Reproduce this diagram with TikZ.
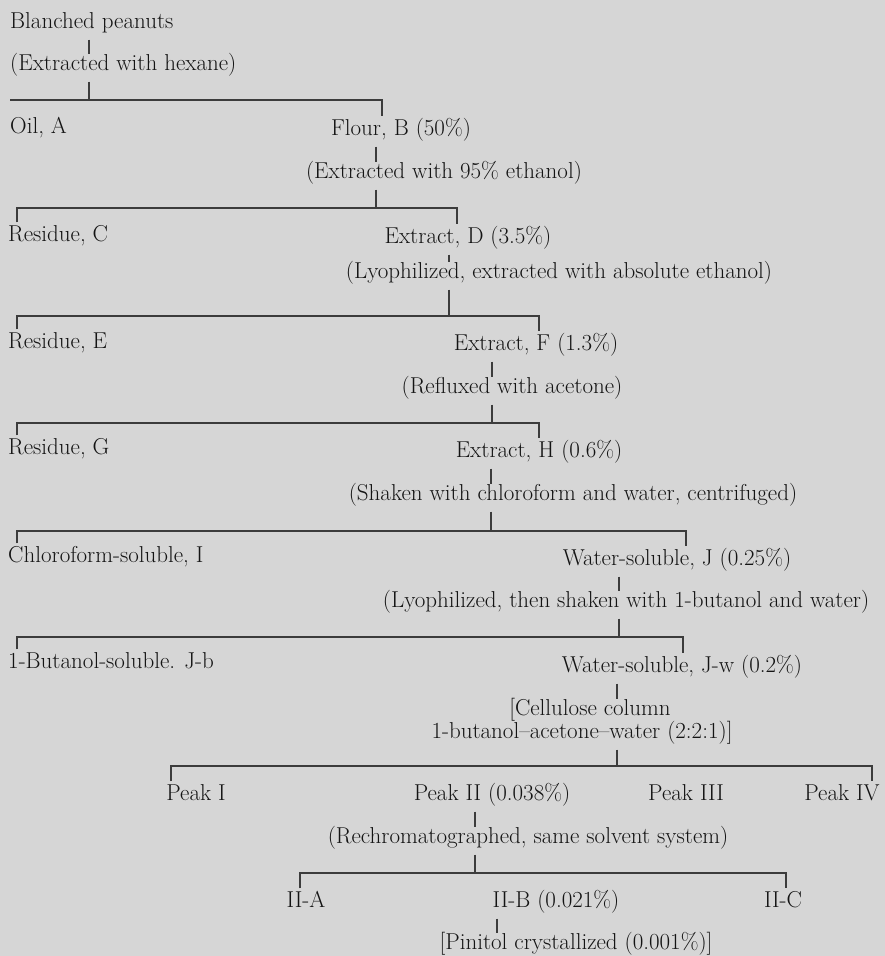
\documentclass[tikz,border=0pt]{standalone}
\usepackage{tikz}
\definecolor{paper}{RGB}{214,214,214}
\definecolor{ink}{RGB}{20,20,20}
\definecolor{rule}{RGB}{60,60,60}
\tikzset{
  lbl/.style={inner xsep=0pt, inner ysep=3pt, text height=16pt, text depth=5pt,
    text=ink, font=\fontsize{23}{26}\selectfont},
  tick/.style={draw=rule, line width=1.2pt, shorten <=3pt},
  stem/.style={tick, shorten >=-3pt},
  bar/.style={draw=rule, line width=1.2pt}
}
\begin{document}
\begin{tikzpicture}[x=1pt, y=-1pt]
  \fill[paper] (0,0) rectangle (885,956);
  \useasboundingbox (0,0) rectangle (885,956);
  % stages
  \node[lbl, anchor=west] (bp) at (10,23) {Blanched peanuts};
  \node[lbl, anchor=west] (hex) at (10,65) {(Extracted with hexane)};
  \node[lbl, anchor=west] (oil) at (10,128) {Oil, A};
  \node[lbl] (flour) at (401,130) {Flour, B (50\%)};
  \node[lbl] (eth) at (444,173) {(Extracted with 95\% ethanol)};
  \node[lbl, anchor=west] (resC) at (8,236) {Residue, C};
  \node[lbl] (extD) at (468,238) {Extract, D (3.5\%)};
  \node[lbl] (lyo) at (559,273) {(Lyophilized, extracted with absolute ethanol)};
  \node[lbl, anchor=west] (resE) at (8,343) {Residue, E};
  \node[lbl] (extF) at (536,345) {Extract, F (1.3\%)};
  \node[lbl] (refl) at (512,388) {(Refluxed with acetone)};
  \node[lbl, anchor=west] (resG) at (8,449) {Residue, G};
  \node[lbl] (extH) at (539,452) {Extract, H (0.6\%)};
  \node[lbl] (shak) at (573,495) {(Shaken with chloroform and water, centrifuged)};
  \node[lbl, anchor=west] (chlI) at (8,557) {Chloroform-soluble, I};
  \node[lbl] (watJ) at (677,560) {Water-soluble, J (0.25\%)};
  \node[lbl] (lyoB) at (626,602) {(Lyophilized, then shaken with 1-butanol and water)};
  \node[lbl, anchor=west] (butJb) at (8,663) {1-Butanol-soluble. J-b};
  \node[lbl] (watJw) at (682,667) {Water-soluble, J-w (0.2\%)};
  \node[lbl] (cellA) at (590,710) {[Cellulose column};
  \node[lbl] (cellB) at (582,733) {1-butanol--acetone--water (2:2:1)]};
  \node[lbl] (pkI) at (196,795) {Peak I};
  \node[lbl] (pkII) at (492,795) {Peak II (0.038\%)};
  \node[lbl] (pkIII) at (686,795) {Peak III};
  \node[lbl] (pkIV) at (842,795) {Peak IV};
  \node[lbl] (rech) at (528,838) {(Rechromatographed, same solvent system)};
  \node[lbl] (iiA) at (306,902) {II-A};
  \node[lbl] (iiB) at (556,902) {II-B (0.021\%)};
  \node[lbl] (iiC) at (783,902) {II-C};
  \node[lbl] (pin) at (576,944) {[Pinitol crystallized (0.001\%)]};
  % split points, left and right drops
  \coordinate (s1) at (89,100);  \coordinate (l1) at (10,100);  \coordinate (r1) at (382,100);
  \coordinate (s2) at (376,208); \coordinate (l2) at (17,208);  \coordinate (r2) at (457,208);
  \coordinate (s3) at (449,316); \coordinate (l3) at (17,316);  \coordinate (r3) at (539,316);
  \coordinate (s4) at (492,423); \coordinate (l4) at (17,423);  \coordinate (r4) at (539,423);
  \coordinate (s5) at (491,531); \coordinate (l5) at (17,531);  \coordinate (r5) at (686,531);
  \coordinate (s6) at (619,637); \coordinate (l6) at (17,637);  \coordinate (r6) at (683,637);
  \coordinate (s7) at (617,766); \coordinate (l7) at (171,766); \coordinate (r7) at (872,766);
  \coordinate (s8) at (475,873); \coordinate (l8) at (300,873); \coordinate (r8) at (786,873);
  \coordinate (s9) at (497,0);
  % ticks
  \draw[stem] (bp.south -| s1) -- (hex.north -| s1);
  \draw[tick] (hex.south -| s1) -- (s1);
  \draw[stem] (flour.south -| s2) -- (eth.north -| s2);
  \draw[tick] (eth.south -| s2) -- (s2);
  \draw[stem] (extD.south -| s3) -- (lyo.north -| s3);
  \draw[tick] (lyo.south -| s3) -- (s3);
  \draw[stem] (extF.south -| s4) -- (refl.north -| s4);
  \draw[tick] (refl.south -| s4) -- (s4);
  \draw[stem] (extH.south -| s5) -- (shak.north -| s5);
  \draw[tick] (shak.south -| s5) -- (s5);
  \draw[stem] (watJ.south -| s6) -- (lyoB.north -| s6);
  \draw[tick] (lyoB.south -| s6) -- (s6);
  \draw[stem] (watJw.south -| s7) -- (cellA.north -| s7);
  \draw[tick] (cellB.south -| s7) -- (s7);
  \draw[stem] (pkII.south -| s8) -- (rech.north -| s8);
  \draw[tick] (rech.south -| s8) -- (s8);
  \draw[stem] (iiB.south -| s9) -- (pin.north -| s9);
  % bars
  \draw[bar] (l1) -- (r1) -- (flour.north -| r1);
  \draw[bar] (resC.north -| l2) -- (l2) -- (r2) -- (extD.north -| r2);
  \draw[bar] (resE.north -| l3) -- (l3) -- (r3) -- (extF.north -| r3);
  \draw[bar] (resG.north -| l4) -- (l4) -- (r4) -- (extH.north -| r4);
  \draw[bar] (chlI.north -| l5) -- (l5) -- (r5) -- (watJ.north -| r5);
  \draw[bar] (butJb.north -| l6) -- (l6) -- (r6) -- (watJw.north -| r6);
  \draw[bar] (pkI.north -| l7) -- (l7) -- (r7) -- (pkIV.north -| r7);
  \draw[bar] (iiA.north -| l8) -- (l8) -- (r8) -- (iiC.north -| r8);
\end{tikzpicture}
\end{document}
